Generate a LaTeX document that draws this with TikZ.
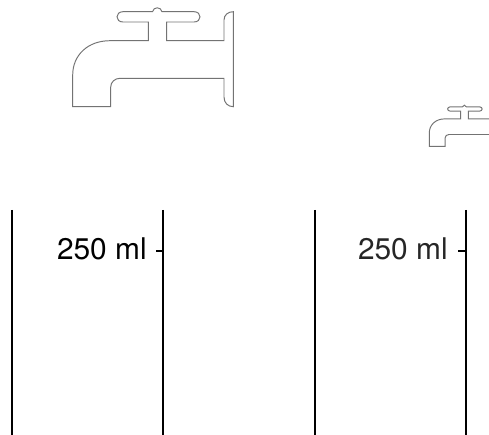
\documentclass[tikz,border=0pt]{standalone}
\usepackage{fontspec}
\setmainfont{TeX Gyre Heros}
\tikzset{
  tapline/.style={draw=black!55, line width=.55pt},
  tube/.style={draw=black, line width=1pt},
  vol/.style={font=\fontsize{17}{17}\selectfont, inner sep=0pt},
  tap/.pic={
    \draw[tapline] (110,40.7) .. controls (88,40.7) and (72.7,55) .. (72.7,75)
      -- (72.7,106.7) -- (110.7,106.7) -- (110.7,87)
      .. controls (110.7,82) and (115,78.3) .. (120,78.3) -- (224,78.3) -- (224,97)
      .. controls (224,103) and (228,106.7) .. (233.3,106.7) -- (233.3,11.7)
      .. controls (228,11.7) and (224,15) .. (224,20) -- (224,40.7) -- (166.7,40.7)
      -- (166.7,22) -- (194,22) .. controls (202,22) and (202,11.7) .. (194,11.7)
      -- (162,11.7) .. controls (161,6.5) and (153.5,6.5) .. (152.5,11.7)
      -- (123,11.7) .. controls (115,11.7) and (115,22) .. (123,22)
      -- (148.3,22) -- (148.3,40.7) -- cycle;
  }
}
\begin{document}
\begin{tikzpicture}[x=.02cm, y=-.02cm]
  \clip (0,0) rectangle (489,435);
  \useasboundingbox (0,0) rectangle (489,435);
  \pic at (0,0) {tap};
  \pic[shift={(399.1,102)}, scale=.415] at (0,0) {tap};
  % left tube
  \coordinate (A) at (12,210); \coordinate (B) at (12,435);
  \coordinate (C) at (163,210); \coordinate (D) at (163,435);
  \coordinate (E) at (163,251);
  \draw[tube] (A)--(B); \draw[tube] (C)--(D);
  \node[vol, anchor=east] (L) at (147,248.5) {250 ml};
  \coordinate (F) at (156,251);
  \draw[line width=.7pt] (F)--(E);
  % right tube
  \coordinate (G) at (315,210); \coordinate (H) at (315,435);
  \coordinate (I) at (466,210); \coordinate (J) at (466,435);
  \coordinate (K) at (466,251);
  \draw[tube] (G)--(H); \draw[tube] (I)--(J);
  \node[vol, anchor=east, text=black!85] (R) at (448,248.5) {250 ml};
  \coordinate (M) at (458,251);
  \draw[line width=.7pt] (M)--(K);
\end{tikzpicture}
\end{document}
